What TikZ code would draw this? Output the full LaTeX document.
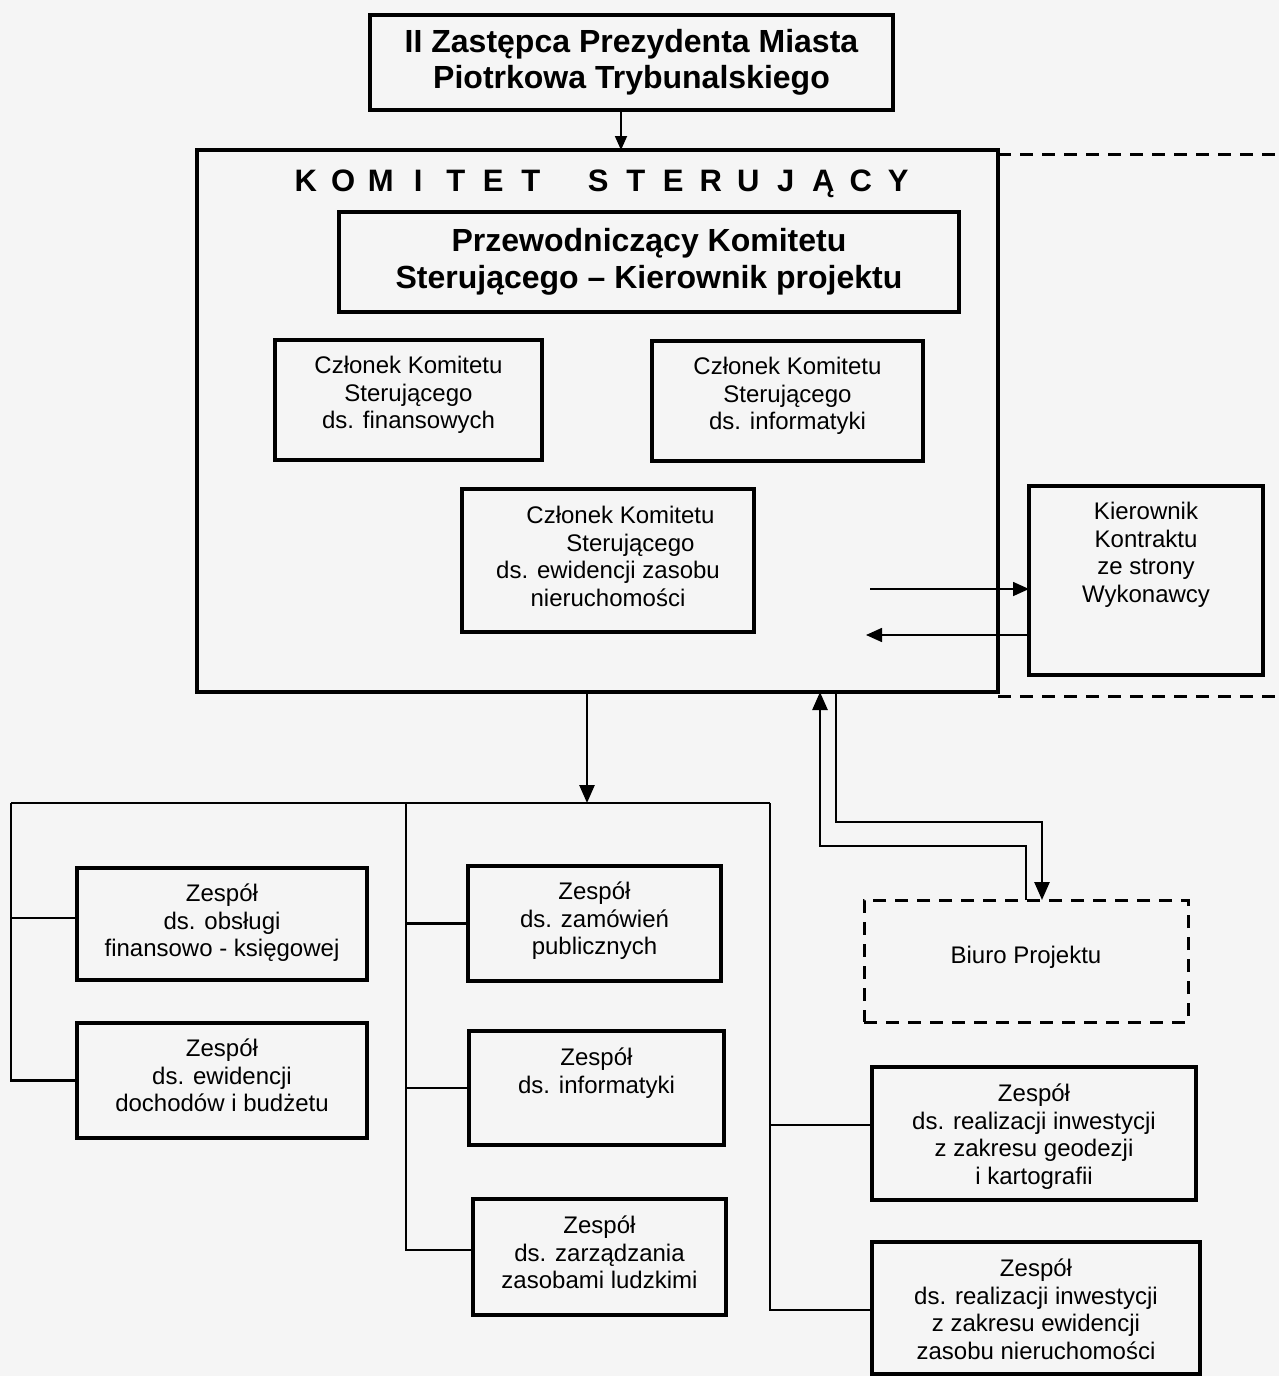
\documentclass[tikz,border=0pt]{standalone}
\usepackage{fontspec}
\setmainfont{Liberation Sans}
\usetikzlibrary{arrows.meta,calc}
\newcommand\Lt[1]{\makebox[37.5pt]{#1}}
\begin{document}
\begin{tikzpicture}[x=1pt,y=1pt,
 bx/.style={draw, line width=4pt, inner sep=0pt, outer sep=0pt},
 dbx/.style={draw, line width=3pt, dash pattern=on 13pt off 9pt, inner sep=0pt, outer sep=0pt},
 dline/.style={line width=3pt, dash pattern=on 13pt off 9pt},
 tx/.style={align=center, inner sep=0pt, anchor=north, font=\fontsize{24}{27.5}\selectfont},
 btx/.style={align=center, inner sep=0pt, font=\bfseries\fontsize{32}{36.5}\selectfont},
 conn/.style={line width=2.6pt},
 arr/.style={conn, -{Triangle[length=18pt,width=15pt]}},
 tarr/.style={line width=1.6pt, -{Triangle[length=16pt,width=14pt]}},
]
\fill[black!4] (0,0) rectangle (1279,-1376);
\useasboundingbox (0,0) rectangle (1279,-1376);

% top
\node[bx, btx, minimum width=523, minimum height=95] (zp) at (631.5,-62.5)
  {II Zastępca Prezydenta Miasta\\Piotrkowa Trybunalskiego};

% steering committee
\node[bx, minimum width=801, minimum height=542] (kom) at (597.5,-421) {};
\node[inner sep=0pt, font=\bfseries\fontsize{31}{31}\selectfont] (kt) at (602,-184)
  {\Lt{K}\Lt{O}\Lt{M}\Lt{I}\Lt{T}\Lt{E}\Lt{T}\hspace{30pt}\Lt{S}\Lt{T}\Lt{E}\Lt{R}\Lt{U}\Lt{J}\Lt{Ą}\Lt{C}\Lt{Y}};
\node[bx, btx, minimum width=620, minimum height=100] (prz) at (649,-262)
  {Przewodniczący Komitetu\\Sterującego – Kierownik projektu};

\node[bx, minimum width=267, minimum height=120] (cfin) at (408.5,-400) {};
\node[tx] (cfint) at ([yshift=-16pt]cfin.north) {Członek Komitetu\\Sterującego\\ds. finansowych};
\node[bx, minimum width=271, minimum height=120] (cinf) at (787.5,-401) {};
\node[tx] (cinft) at ([yshift=-16pt]cinf.north) {Członek Komitetu\\Sterującego\\ds. informatyki};
\node[bx, minimum width=292, minimum height=143] (cew) at (608,-560.5) {};
\node[tx] (cewt) at ([yshift=-17pt]cew.north) {\hspace*{25pt}Członek Komitetu\\\hspace*{45pt}Sterującego\\ds. ewidencji zasobu\\nieruchomości};

% contractor
\node[bx, minimum width=234, minimum height=189] (kk) at (1146,-580.5) {};
\node[tx] (kkt) at ([yshift=-16pt]kk.north) {Kierownik\\Kontraktu\\ze strony\\Wykonawcy};
\coordinate (dt1) at (998,-154);
\coordinate (dt2) at (1279,-154);
\coordinate (db1) at (998,-696);
\coordinate (db2) at (1279,-696);
\draw[dline] (dt1) -- (dt2);
\draw[dline] (db1) -- (db2);
\coordinate (a1) at (870,-589);
\coordinate (a2) at (866,-635);
\draw[tarr] (a1) -- (a1 -| kk.west);
\draw[tarr] (a2 -| kk.west) -- (a2);

% top arrow
\draw[line width=1.8pt, -{Triangle[length=14pt,width=12pt]}] ([xshift=-10.5pt]zp.south) -- ([xshift=-10.5pt]zp.south |- kom.north);

% teams
\node[bx, minimum width=290, minimum height=112] (z1) at (222,-924) {};
\node[tx] (z1t) at ([yshift=-16pt]z1.north) {Zespół\\ds. obsługi\\finansowo - księgowej};
\node[bx, minimum width=290, minimum height=115] (z2) at (222,-1080.5) {};
\node[tx] (z2t) at ([yshift=-16pt]z2.north) {Zespół\\ds. ewidencji\\dochodów i budżetu};
\node[bx, minimum width=253, minimum height=115] (m1) at (594.5,-923.5) {};
\node[tx] (m1t) at ([yshift=-16pt]m1.north) {Zespół\\ds. zamówień\\publicznych};
\node[bx, minimum width=255, minimum height=114] (m2) at (596.5,-1088) {};
\node[tx] (m2t) at ([yshift=-17pt]m2.north) {Zespół\\ds. informatyki};
\node[bx, minimum width=253, minimum height=116] (m3) at (599.5,-1257) {};
\node[tx] (m3t) at ([yshift=-17pt]m3.north) {Zespół\\ds. zarządzania\\zasobami ludzkimi};
\node[bx, minimum width=324, minimum height=133] (r1) at (1034,-1133.5) {};
\node[tx] (r1t) at ([yshift=-17pt]r1.north) {Zespół\\ds. realizacji inwestycji\\z zakresu geodezji\\i kartografii};
\node[bx, minimum width=328, minimum height=132] (r2) at (1036,-1308) {};
\node[tx] (r2t) at ([yshift=-17pt]r2.north) {Zespół\\ds. realizacji inwestycji\\z zakresu ewidencji\\zasobu nieruchomości};
\node[dbx, minimum width=324, minimum height=122, font=\fontsize{24}{27.5}\selectfont] (bp) at (1026,-961) {\raisebox{13pt}{Biuro Projektu}};

% bus
\coordinate (bL) at (11,-803);
\coordinate (bM) at (406,-803);
\coordinate (bR) at (770,-803);
\coordinate (bT) at (587,-803);
\draw[arr] (bT |- kom.south) -- (bT);
\draw[conn] (bL) -- (bR);
\draw[conn] (bL) |- (z2.west);
\draw[conn] ([yshift=6pt]z1.west) -- ([yshift=6pt]z1.west -| bL);
\draw[conn] (bM) |- ([yshift=7pt]m3.west);
\draw[conn] (m1.west) -- (m1.west -| bM);
\draw[conn] (m2.west) -- (m2.west -| bM);
\draw[conn] (bR) |- ([yshift=-2pt]r2.west);
\draw[conn] ([yshift=8.5pt]r1.west) -- ([yshift=8.5pt]r1.west -| bR);

% office links
\coordinate (c1) at (820,-846);
\coordinate (c2) at (836,-822);
\draw[arr] (bp.north) |- (c1) -- (c1 |- kom.south);
\draw[arr] (c2 |- kom.south) -- (c2) -| ([xshift=16pt]bp.north);
\end{tikzpicture}
\end{document}
